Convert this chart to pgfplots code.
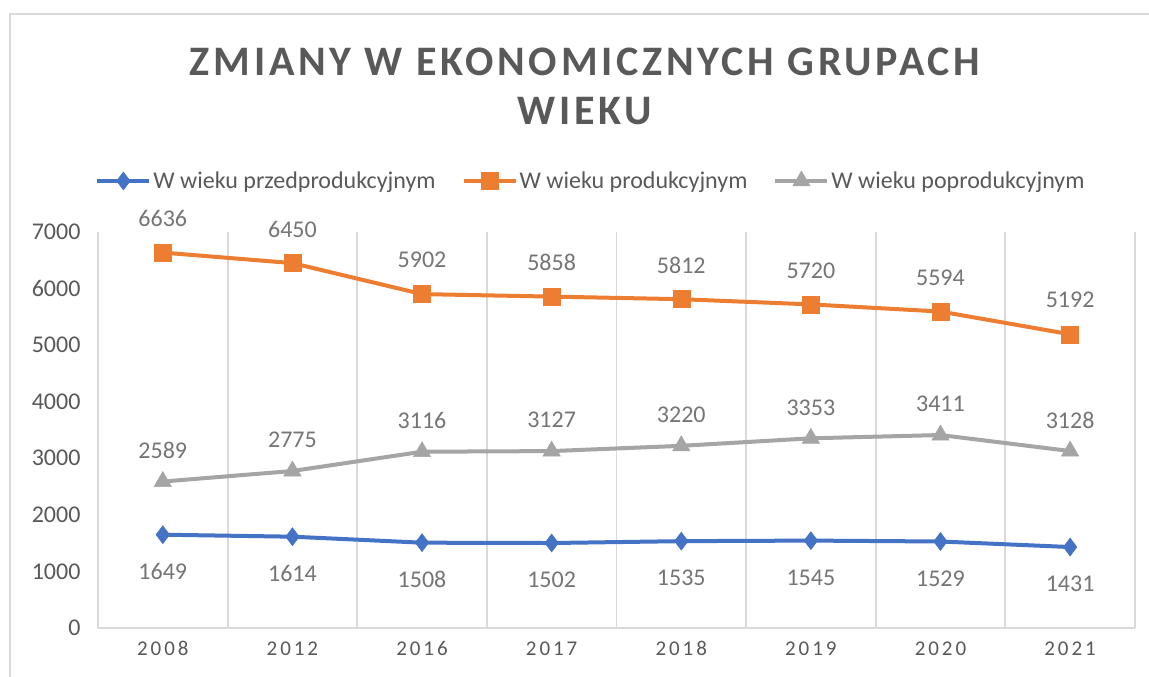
\documentclass[border=0pt]{standalone}
\usepackage{fontspec}
\setmainfont{Carlito}
\newfontfamily\titlefont[LetterSpace=9]{Carlito}
\newfontfamily\xtickfont[LetterSpace=14]{Carlito}
\usepackage{pgfplots}
\pgfplotsset{compat=1.18}
\definecolor{cblue}{HTML}{4472C4}
\definecolor{corange}{HTML}{ED7D31}
\definecolor{cgray}{HTML}{A5A5A5}
\definecolor{ctxt}{HTML}{595959}
\definecolor{clab}{HTML}{757575}
\definecolor{cgrid}{HTML}{D9D9D9}
\begin{document}
\begin{tikzpicture}[x=1bp,y=1bp]
\useasboundingbox (0,0) rectangle (1149,677);
\fill[white] (0,0) rectangle (1149,677);
\begin{scope}
\clip (0,0) rectangle (1149,677);
\draw[cgrid, line width=1.2bp] (10,-5) rectangle (1160,663);
\end{scope}
\node[font=\titlefont\fontsize{42bp}{48bp}\selectfont\bfseries, text=ctxt] at (585,615) {ZMIANY W EKONOMICZNYCH GRUPACH};
\node[font=\titlefont\fontsize{42bp}{48bp}\selectfont\bfseries, text=ctxt] at (585,566) {WIEKU};
\begin{axis}[
  at={(98bp,49bp)}, anchor=south west,
  scale only axis, width=1037bp, height=396bp,
  xmin=-0.5, xmax=7.5, ymin=0, ymax=7000,
  xtick={0,...,7},
  xticklabels={2008,2012,2016,2017,2018,2019,2020,2021},
  minor xtick={-0.5,0.5,...,7.5},
  xminorgrids, minor grid style={cgrid, line width=1.8bp},
  ytick={0,1000,...,7000},
  major tick length=0pt, minor tick length=0pt,
  axis line style={draw=none},
  x tick label style={font=\xtickfont\fontsize{21bp}{24bp}\selectfont, text=ctxt, yshift=-10bp},
  y tick label style={font=\fontsize{24bp}{28bp}\selectfont, text=ctxt, xshift=-14bp},
  yticklabel style={/pgf/number format/.cd, fixed, 1000 sep={}, assume math mode=true},
  legend style={at={(0.4754,1.1288)}, anchor=center, draw=none, fill=none,
    legend columns=3, font=\fontsize{24bp}{28bp}\selectfont, text=ctxt,
    /tikz/every even column/.append style={column sep=24bp},
    inner sep=0pt},
  legend image code/.code={%
    \draw[#1, mark repeat=2, mark phase=2] plot coordinates {(0bp,0bp) (26bp,0bp) (52bp,0bp)};},
  every axis plot/.append style={line width=4bp},
  nodes near coords,
  nodes near coords style={font=\fontsize{24bp}{28bp}\selectfont, text=clab, anchor=center},
  point meta=explicit symbolic,
  clip=false,
]
\draw[cgrid, line width=1.8bp] (axis cs:-0.5,0) -- (axis cs:7.5,0);
\addplot[cblue, mark=diamond*, mark size=9bp, mark options={solid, line width=0.5bp},
  nodes near coords style={yshift=-37bp}]
  coordinates {(0,1649)[1649] (1,1614)[1614] (2,1508)[1508] (3,1502)[1502] (4,1535)[1535] (5,1545)[1545] (6,1529)[1529] (7,1431)[1431]};
\addlegendentry{W wieku przedprodukcyjnym}
\addplot[corange, mark=square*, mark size=8.5bp, mark options={solid, line width=0.5bp},
  nodes near coords style={yshift=34bp}]
  coordinates {(0,6636)[6636] (1,6450)[6450] (2,5902)[5902] (3,5858)[5858] (4,5812)[5812] (5,5720)[5720] (6,5594)[5594] (7,5192)[5192]};
\addlegendentry{W wieku produkcyjnym}
\addplot[cgray, mark=triangle*, mark size=10bp, mark options={solid, line width=0.5bp},
  nodes near coords style={yshift=31bp}]
  coordinates {(0,2589)[2589] (1,2775)[2775] (2,3116)[3116] (3,3127)[3127] (4,3220)[3220] (5,3353)[3353] (6,3411)[3411] (7,3128)[3128]};
\addlegendentry{W wieku poprodukcyjnym}
\end{axis}
\end{tikzpicture}
\end{document}
